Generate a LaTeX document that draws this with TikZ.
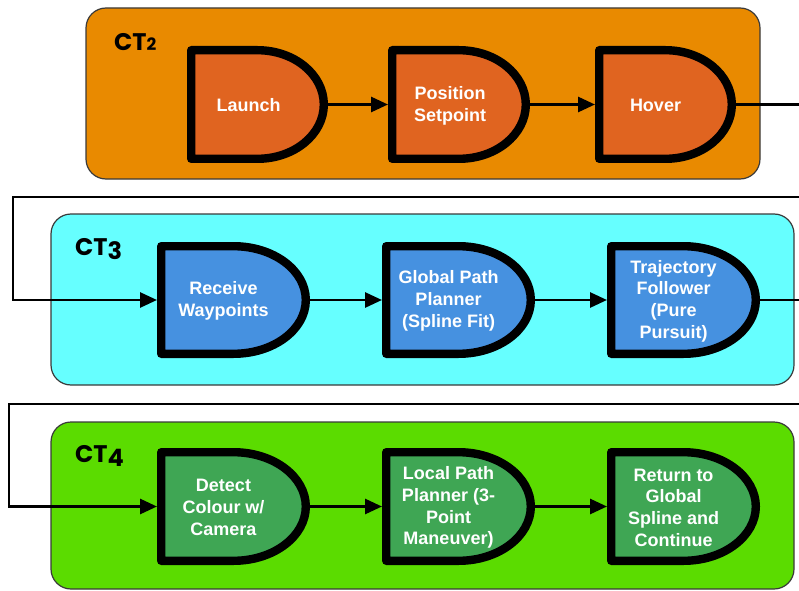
\documentclass[tikz,border=0pt]{standalone}
\usepackage{fontspec}
\setmainfont{Liberation Sans}
\newfontfamily\ctfont{Poppins}
\usetikzlibrary{arrows.meta,calc}

\definecolor{ctorange}{HTML}{E98A00}
\definecolor{gateorange}{HTML}{E06420}
\definecolor{ctcyan}{HTML}{66FFFF}
\definecolor{gateblue}{HTML}{4691E0}
\definecolor{ctgreen}{HTML}{5BDC00}
\definecolor{gategreen}{HTML}{3FA654}
\definecolor{paneledge}{HTML}{3A3A3A}

\tikzset{
  panel/.style={draw=paneledge, line width=1.2pt, rounded corners=20pt,
    inner sep=0pt, outer sep=0pt, anchor=north west},
  ctlabel/.style={font=\ctfont\bfseries\fontsize{24}{26}\selectfont,
    inner sep=0pt, anchor=base west},
  gatebox/.style={draw=none, inner sep=0pt, outer sep=0pt, anchor=north west},
  gateline/.style={draw=black, line width=8.4pt, line join=round},
  gatetext/.style={text=white, align=center, inner sep=0pt,
    font=\bfseries\fontsize{18}{21.7}\selectfont},
  flow/.style={draw=black, line width=2.8pt,
    -{Triangle[length=17pt,width=15pt]}},
}

% old-style looking stage numbers
\newcommand\lowdigit[1]{\raisebox{-4.5pt}{#1}}
\newcommand\smalldigit[1]{{\fontsize{17}{18}\selectfont #1}}

% gate: name, left, top (measured from the page top), width, height, fill, text shift, text
\newcommand\gate[8]{%
  \node[gatebox, minimum width=#4pt, minimum height=#5pt] (#1) at (#2, 590-#3) {};
  \draw[gateline, fill=#6]
    ([shift={(4.2pt,-4.2pt)}]#1.north west)
    -- ([shift={(#4pt*0.5,-4.2pt)}]#1.north west)
    arc[start angle=90, end angle=-90, x radius={#4*0.5-4.2}, y radius={#5*0.5-4.2}]
    -- ([shift={(4.2pt,4.2pt)}]#1.south west) -- cycle;
  \node[gatetext] (#1-t) at ([xshift=#7pt, yshift=-1pt]#1.center) {#8};
}

\begin{document}
\begin{tikzpicture}[x=1pt, y=1pt]
  \clip (0,0) rectangle (799,590);

  % stage panels
  \node[panel, fill=ctorange, minimum width=674pt, minimum height=171pt] (ct2) at (86, 590-8) {};
  \node[panel, fill=ctcyan, minimum width=743pt, minimum height=171pt] (ct3) at (51, 590-214) {};
  \node[panel, fill=ctgreen, minimum width=743pt, minimum height=167pt] (ct4) at (51, 590-422) {};

  \node[ctlabel] (ct2-l) at (114, 590-51) {CT\smalldigit{2}};
  \node[ctlabel] (ct3-l) at (75, 590-255) {CT\lowdigit{3}};
  \node[ctlabel] (ct4-l) at (75, 590-462) {CT\lowdigit{4}};

  % CT2 row
  \gate{launch}{187}{46}{141}{117}{gateorange}{-9}{Launch}
  \gate{possp}{388}{46}{142}{117}{gateorange}{-9}{Position\\Setpoint}
  \gate{hover}{595}{46}{141}{117}{gateorange}{-10}{Hover}

  % CT3 row
  \gate{recv}{157}{242}{153}{116}{gateblue}{-10}{Receive\\Waypoints}
  \gate{gpp}{382}{242}{153}{116}{gateblue}{-10}{Global Path\\Planner\\(Spline Fit)}
  \gate{traj}{607}{242}{153}{116}{gateblue}{-10}{Trajectory\\Follower\\(Pure\\Pursuit)}

  % CT4 row
  \gate{detect}{157}{448}{153}{117}{gategreen}{-10}{Detect\\Colour w/\\Camera}
  \gate{lpp}{382}{448}{153}{117}{gategreen}{-10}{Local Path\\Planner (3-\\Point\\Maneuver)}
  \gate{ret}{607}{448}{153}{117}{gategreen}{-10}{Return to\\Global\\Spline and\\Continue}

  % connectors within rows
  \draw[flow] (launch.east) -- (possp.west);
  \draw[flow] (possp.east) -- (hover.west);
  \draw[flow] (recv.east) -- (gpp.west);
  \draw[flow] (gpp.east) -- (traj.west);
  \draw[flow] (detect.east) -- (lpp.west);
  \draw[flow] (lpp.east) -- (ret.west);

  % wrap-around connectors between rows
  \coordinate (wrapR1) at (815, 590-197);
  \coordinate (wrapL1) at (13, 590-197);
  \coordinate (wrapR2) at (815, 590-404);
  \coordinate (wrapL2) at (9, 590-404);
  \draw[flow] (hover.east) -| (wrapR1) -- (wrapL1) |- (recv.west);
  \draw[flow] (traj.east) -| (wrapR2) -- (wrapL2) |- (detect.west);
\end{tikzpicture}
\end{document}
